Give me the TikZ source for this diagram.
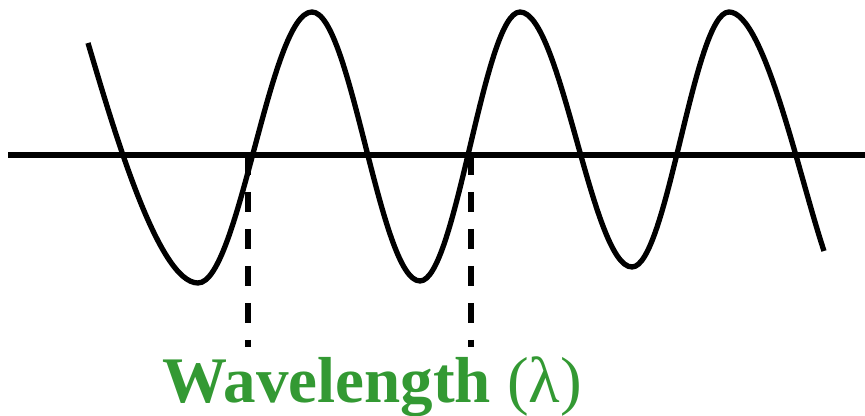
\documentclass[tikz,border=0pt]{standalone}
\usepackage{fontspec}
\setmainfont{Liberation Serif}
\usepackage{tikz}
\definecolor{wavegreen}{RGB}{51,153,51}
\tikzstyle{thickline}=[line width=0.55mm, black]
\tikzstyle{dashline}=[line width=0.57mm, black, dash pattern=on 2mm off 1.7mm]

\begin{document}
\begin{tikzpicture}[x=0.1mm, y=-0.1mm]

    \useasboundingbox (0,0) rectangle (865,416);

    %axis
    \draw [thickline] (8,155) -- (865,155);

    %wave
    \draw [thickline, line width=0.53mm, line join=round]
    (88,43) .. controls (113,127) and (158,283) .. (198,283)
    .. controls (239,283) and (270,12) .. (312,12)
    .. controls (351,12) and (380,281) .. (420,281)
    .. controls (456,281) and (484,12) .. (520,12)
    .. controls (561,12) and (592,267) .. (632,267)
    .. controls (667,267) and (694,12) .. (729,12)
    .. controls (764,12) and (799,176) .. (824,251);

    %wavelength markers
    \coordinate (crossA) at (248,155);
    \coordinate (crossB) at (471,155);
    \coordinate (footA) at (248,347);
    \coordinate (footB) at (471,347);
    \draw [dashline] (crossA) -- (footA);
    \draw [dashline] (crossB) -- (footB);

    \node [anchor=base, text=wavegreen, font=\fontsize{18.5pt}{22pt}\selectfont, inner sep=0pt] (label) at (372,403) {\textbf{Wavelength} (λ)};

\end{tikzpicture}
\end{document}
